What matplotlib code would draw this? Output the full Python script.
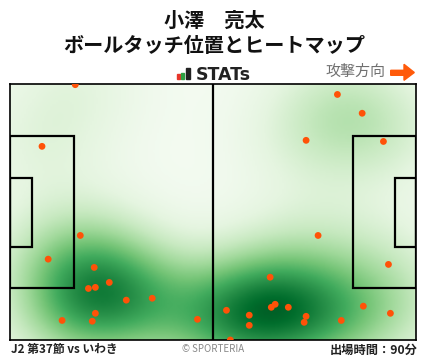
import numpy as np
import matplotlib.pyplot as plt
from matplotlib.patches import Rectangle, Polygon

plt.rcParams['font.family'] = ['Noto Sans CJK JP', 'DejaVu Sans']

# === データ（ピッチ座標 m, 105 x 68, yは下から）===
touch_x = [16.8, 8.2, 84.6, 91.0, 76.5, 96.5, 18.1, 9.8, 21.7, 25.6, 20.2,
           22.0, 30.0, 36.7, 22.0, 13.4, 21.2, 48.4, 79.6, 97.8, 67.2, 55.9,
           61.8, 61.8, 67.5, 68.5, 71.9, 76.5, 76.0, 85.6, 91.3, 98.3, 56.9]
touch_y = [67.9, 51.5, 65.3, 60.3, 53.1, 52.8, 27.8, 21.5, 19.3, 15.3, 13.7,
           14.0, 10.6, 11.1, 7.1, 5.2, 5.0, 5.5, 27.8, 20.1, 16.7, 7.9,
           6.6, 3.9, 8.7, 9.5, 8.7, 6.3, 4.7, 5.2, 9.0, 7.1, 0.0]

player = '小澤　亮太'
subtitle = 'ボールタッチ位置とヒートマップ'
match_info = 'J2 第37節 vs いわき'
minutes = '出場時間：90分'

L, W = 105, 68

# === ヒートマップ（タッチ位置のガウシアンKDE）===
gx = np.linspace(0, L, 211)
gy = np.linspace(0, W, 137)
GX, GY = np.meshgrid(gx, gy)
px = np.array(touch_x)
py = np.array(touch_y)
bw_x, bw_y = 13.0, 10.5
dens = np.zeros_like(GX)
for x0, y0 in zip(px, py):
    dens += np.exp(-((GX - x0) ** 2 / (2 * bw_x ** 2) + (GY - y0) ** 2 / (2 * bw_y ** 2)))
dens = dens / dens.max()

fig = plt.figure(figsize=(4.28, 3.59), dpi=100)
ax = fig.add_axes([10.3 / 428, 19 / 359, 406 / 428, 255.7 / 359])

ax.imshow(dens, extent=[0, L, 0, W], origin='lower', cmap='Greens',
          vmin=-0.02, vmax=1.1, aspect='auto', interpolation='bilinear', zorder=0)

# ピッチライン
lc = 'black'
lw = 1.6
ax.plot([L / 2, L / 2], [0, W], color=lc, lw=lw, zorder=2)
for x0, side in [(0, 1), (L, -1)]:
    ax.add_patch(Rectangle((x0, W / 2 - 20.16), 16.5 * side, 40.32, fill=False, ec=lc, lw=lw, zorder=2))
    ax.add_patch(Rectangle((x0, W / 2 - 9.16), 5.5 * side, 18.32, fill=False, ec=lc, lw=lw, zorder=2))

# タッチ位置
ax.scatter(px, py, s=24, color='#ff5208', edgecolors='none', zorder=3)

ax.set_xlim(0, L)
ax.set_ylim(0, W)
ax.set_xticks([])
ax.set_yticks([])
for sp in ax.spines.values():
    sp.set_linewidth(1.2)
    sp.set_color('black')

# === テキスト ===
fig.text(0.5, 1 - 20 / 359, player, ha='center', va='center', fontsize=14.5, fontweight='bold', color='#111111')
fig.text(0.5, 1 - 45 / 359, subtitle, ha='center', va='center', fontsize=14.5, fontweight='bold', color='#111111')

# STATsロゴ
for x0, w, h, c in [(177, 3.4, 5.3, '#e8352a'), (181, 3.4, 6.6, '#2ea043'), (185.7, 4.3, 11.0, '#222222')]:
    fig.patches.append(Rectangle((x0 / 428, (359 - 79.3) / 359), w / 428, h / 359,
                                 transform=fig.transFigure, color=c))
fig.text(196 / 428, (359 - 79.6) / 359, 'STATs', ha='left', va='baseline', fontsize=12.5,
         fontweight='bold', color='#222222', family='DejaVu Sans')

# 攻撃方向
fig.text(385 / 428, 1 - 72 / 359, '攻撃方向', ha='right', va='center', fontsize=10.8, color='#707070')
arrow = [(390.7, 70.3), (404, 70.3), (404, 64.3), (414.3, 72.5), (404, 80.3), (404, 75.3), (390.7, 75.3)]
fig.patches.append(Polygon([(x / 428, 1 - y / 359) for x, y in arrow], closed=True,
                           transform=fig.transFigure, color='#ff5a0a'))

fig.text(11 / 428, 1 - 350 / 359, match_info, ha='left', va='center', fontsize=8.5, fontweight='bold', color='#222222')
fig.text(213 / 428, 1 - 349 / 359, '© SPORTERIA', ha='center', va='center', fontsize=7, color='#888888')
fig.text(418 / 428, 1 - 350 / 359, minutes, ha='right', va='center', fontsize=8.8, fontweight='bold', color='#222222')

plt.savefig('out.png', dpi=100)
